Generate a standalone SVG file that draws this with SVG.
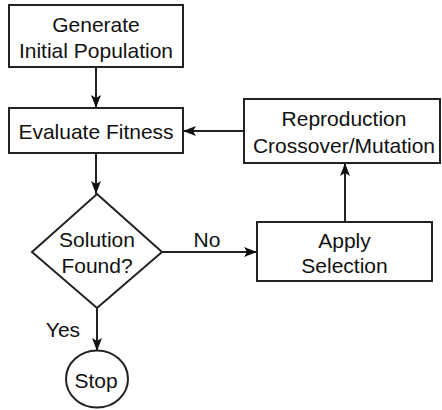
<svg xmlns="http://www.w3.org/2000/svg" width="442" height="410" viewBox="0 0 442 410">
<style>
.box{fill:#fff;stroke:#222;stroke-width:2}
.t{font-family:"Liberation Sans",Arial,sans-serif;font-size:21px;fill:#111;text-anchor:middle}
.c{fill:none;stroke:#222;stroke-width:2}
</style>
<defs>
<marker id="ah" markerUnits="userSpaceOnUse" markerWidth="14" markerHeight="12" refX="13" refY="6" orient="auto">
<path d="M0,1 L13,6 L0,11 L3,6 z" fill="#111"/>
</marker>
</defs>
<rect width="442" height="410" fill="#fff"/>
<g id="connectors">
<line class="c" x1="96" y1="67" x2="96" y2="108" marker-end="url(#ah)"/>
<line class="c" x1="96" y1="153" x2="96" y2="194" marker-end="url(#ah)"/>
<line class="c" x1="97" y1="308" x2="97" y2="351" marker-end="url(#ah)"/>
<line class="c" x1="162" y1="252" x2="257" y2="252" marker-end="url(#ah)"/>
<line class="c" x1="345" y1="222" x2="345" y2="163" marker-end="url(#ah)"/>
<line class="c" x1="244" y1="131" x2="183" y2="131" marker-end="url(#ah)"/>
<text class="t" x="207" y="247">No</text>
<text class="t" x="63" y="337">Yes</text>
</g>
<g id="generate">
<rect class="box" x="9" y="5" width="174" height="62"/>
<text class="t" x="96" y="32">Generate</text>
<text class="t" x="96" y="58">Initial Population</text>
</g>
<g id="evaluate">
<rect class="box" x="9" y="108" width="174" height="45"/>
<text class="t" x="96" y="139">Evaluate Fitness</text>
</g>
<g id="decision">
<polygon class="box" points="97,194 162,252 97,308 32,252"/>
<text class="t" x="97" y="247">Solution</text>
<text class="t" x="97" y="273">Found?</text>
</g>
<g id="stop">
<ellipse class="box" cx="97" cy="379" rx="31" ry="28.5"/>
<text class="t" x="96" y="388">Stop</text>
</g>
<g id="selection">
<rect class="box" x="257" y="222" width="175" height="59"/>
<text class="t" x="344.5" y="248">Apply</text>
<text class="t" x="344.5" y="273">Selection</text>
</g>
<g id="reproduction">
<rect class="box" x="244" y="99" width="196" height="64"/>
<text class="t" x="344" y="126">Reproduction</text>
<text class="t" x="344" y="153">Crossover/Mutation</text>
</g>
</svg>
